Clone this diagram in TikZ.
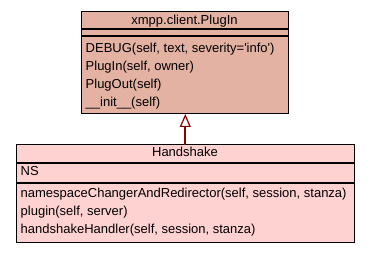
\documentclass[tikz,border=0pt]{standalone}
\usepackage{fontspec}
\setmainfont{Liberation Sans}
\usetikzlibrary{arrows.meta}
\definecolor{baseFill}{RGB}{228,178,162}
\definecolor{subFill}{RGB}{255,210,210}
\definecolor{inhRed}{RGB}{139,0,0}
\begin{document}
\begin{tikzpicture}[x=1pt,y=-1pt,
  classbox/.style={draw=black,line width=1pt,inner sep=0pt,outer sep=0pt,anchor=north west},
  sep/.style={draw=black,line width=1.2pt},
  member/.style={anchor=base west,inner sep=0pt,font=\fontsize{13}{15}\selectfont},
  title/.style={anchor=base,inner sep=0pt,font=\fontsize{13}{15}\selectfont},
  inherit/.style={draw=inhRed,line width=2.2pt,-{Triangle[open,length=13pt,width=11pt,line width=1.2pt]}}]
\useasboundingbox (0,0) rectangle (371,253);

% base class
\node[classbox,fill=baseFill,minimum width=207pt,minimum height=102pt] (base) at (81,12) {};
\draw[sep] (81,29) -- (288,29) (81,36) -- (288,36);
\node[title] (baseName) at (184.5,25) {xmpp.client.PlugIn};
\node[member] (m1) at (85.5,53) {DEBUG(self, text, severity=\textquotesingle info\textquotesingle)};
\node[member] (m2) at (85.5,71) {PlugIn(self, owner)};
\node[member] (m3) at (85.5,88.7) {PlugOut(self)};
\node[member] (m4) at (85.5,106.3) {\_\_init\_\_(self)};

% derived class
\node[classbox,fill=subFill,minimum width=338pt,minimum height=97pt] (sub) at (16,145) {};
\draw[sep] (16,163) -- (354,163) (16,183) -- (354,183);
\node[title] (subName) at (185,157) {Handshake};
\node[member] (a1) at (20.5,176) {NS};
\node[member] (s1) at (20.5,197.5) {namespaceChangerAndRedirector(self, session, stanza)};
\node[member] (s2) at (20.5,215.3) {plugin(self, server)};
\node[member] (s3) at (20.5,233.2) {handshakeHandler(self, session, stanza)};

% inheritance
\draw[inherit] (sub.north -| 185.3,0) -- (base.south -| 185.3,0);
\end{tikzpicture}
\end{document}
